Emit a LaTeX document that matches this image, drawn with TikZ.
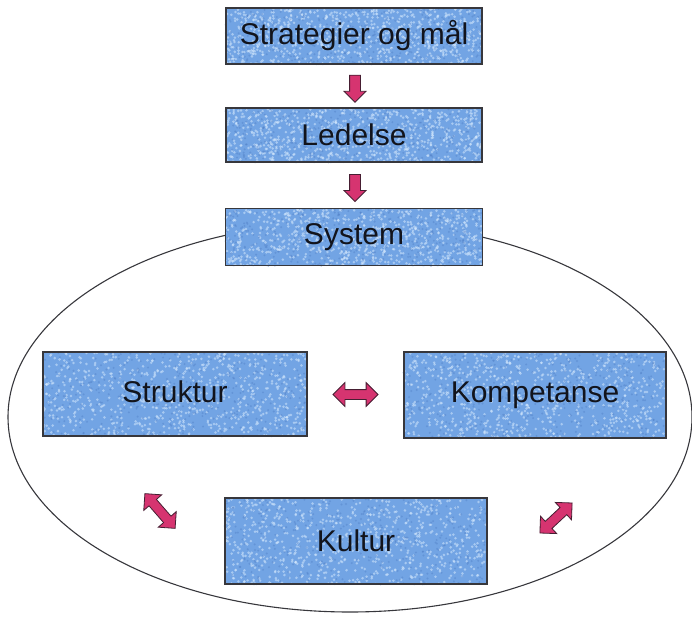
\documentclass[tikz,border=0pt]{standalone}
\usepackage{fontspec}
\setmainfont{Liberation Sans}
\usetikzlibrary{shapes.arrows,calc,backgrounds}

\definecolor{boxblue}{RGB}{114,164,228}
\definecolor{boxlight}{RGB}{212,232,253}
\definecolor{boxdeep}{RGB}{78,124,196}
\definecolor{arrowfill}{RGB}{214,52,112}
\definecolor{arrowedge}{RGB}{70,30,50}
\definecolor{edgegray}{RGB}{55,55,60}
\definecolor{textdark}{RGB}{18,20,28}

\tikzset{
  stagebox/.style={draw=edgegray, line width=1.1pt, inner sep=0pt,
    text=textdark, font=\fontsize{30}{32}\selectfont},
  downarrow/.style={single arrow, draw=arrowedge, fill=arrowfill, line width=0.8pt,
    inner xsep=0pt, inner ysep=5pt, minimum height=27pt,
    single arrow head extend=5.5pt, rotate=-90},
  twoway/.style={double arrow, draw=arrowedge, fill=arrowfill, line width=0.8pt,
    inner xsep=0pt, inner ysep=4.5pt, minimum height=45pt,
    double arrow head extend=7pt},
}

% mottled fill behind a box: base colour plus random light and dark specks
\newcommand{\mottle}[3]{%
  \fill[boxblue] (#1.south west) rectangle (#1.north east);
  \foreach \k in {1,...,750}{%
    \fill[boxlight, opacity=0.55] ($(#1.south west)+({rnd*#2},{rnd*#3})$) circle (1.4pt);
  }
  \foreach \k in {1,...,350}{%
    \fill[boxdeep, opacity=0.4] ($(#1.south west)+({rnd*#2},{rnd*#3})$) circle (1.1pt);
  }
}

\begin{document}
\begin{tikzpicture}[x=1pt,y=1pt]
\useasboundingbox (0,0) rectangle (692,624);
\pgfmathsetseed{4711}

% chain of steering levels
\node[stagebox, minimum width=256pt, minimum height=56pt] (strat) at (354,588) {Strategier og mål};
\node[stagebox, minimum width=256pt, minimum height=54pt] (led)   at (354,489) {Ledelse};
\node[stagebox, minimum width=257pt, minimum height=57pt] (sys)   at (354,387) {System};

% the three parts of the system
\node[stagebox, minimum width=264pt, minimum height=84pt] (str) at (175,230) {\raisebox{4pt}{Struktur}};
\node[stagebox, minimum width=262pt, minimum height=86pt] (kom) at (535,229) {\raisebox{4pt}{Kompetanse}};
\node[stagebox, minimum width=262pt, minimum height=86pt] (kul) at (356,83)  {Kultur};

\begin{pgfonlayer}{background}
  \draw[edgegray, line width=1.1pt] (350,207) ellipse [x radius=342, y radius=195];
  \mottle{strat}{256}{56}
  \mottle{led}{256}{54}
  \mottle{sys}{257}{57}
  \mottle{str}{264}{84}
  \mottle{kom}{262}{86}
  \mottle{kul}{262}{86}
\end{pgfonlayer}

% block arrows between the levels
\node[downarrow] (a1) at ($(strat.south)!0.5!(led.north)+(1,0)$) {};
\node[downarrow] (a2) at ($(led.south)!0.5!(sys.north)+(1,0)$) {};

% two-way relations inside the system
\node[twoway] (sk) at ($(str.east)!0.5!(kom.west)$) {};
\node[twoway, rotate=-49, minimum height=46pt] (sl) at (160,113) {};
\node[twoway, rotate=43, minimum height=44pt] (kl) at (556,106) {};
\end{tikzpicture}
\end{document}
